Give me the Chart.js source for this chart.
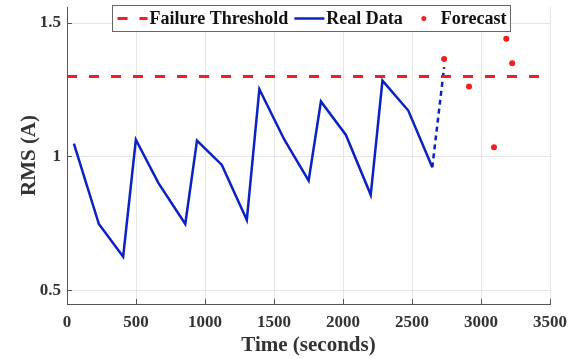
<!DOCTYPE html>
<html>
<head>
<meta charset="utf-8">
<script src="https://cdn.jsdelivr.net/npm/chart.js@4"></script>
<style>
  body { margin: 0; background: #fff; }
  #wrap { width: 582px; height: 359px; position: relative; }
</style>
</head>
<body>
<div id="wrap"><canvas id="rms-chart"></canvas></div>
<script>
// values
const realTime = [50, 231, 407, 499, 663, 857, 942, 1122, 1303, 1394, 1575, 1751, 1840, 2021, 2201, 2286, 2473, 2647];
const realRms = [1.049, 0.749, 0.627, 1.064, 0.902, 0.749, 1.061, 0.970, 0.764, 1.253, 1.064, 0.911, 1.207, 1.082, 0.858, 1.285, 1.173, 0.961];

// dashed jump from the last measured point to the first forecast
const linkTime = [2647, 2733];
const linkRms = [0.961, 1.335];

const forecastTime = [2733, 2913, 3094, 3183, 3226];
const forecastRms = [1.366, 1.263, 1.036, 1.441, 1.350];

const thresholdTime = [0, 3500];
const thresholdRms = [1.3, 1.3];

const xTicks = [0, 500, 1000, 1500, 2000, 2500, 3000, 3500];
const yTicks = [0.5, 1, 1.5];

const serif = '"Liberation Serif", "Times New Roman", serif';
const red = '#f0201e';
const blue = '#0a22c4';

function pts(xs, ys) {
    return xs.map((x, i) => ({ x: x, y: ys[i] }));
}

// boxed legend drawn on top of the plot, like matlab's
const legendBox = {
    id: 'legendBox',
    afterDraw(chart) {
        const ctx = chart.ctx;
        const area = chart.chartArea;
        const items = chart.data.datasets.filter(d => d.label);
        ctx.save();
        ctx.font = 'bold 18px ' + serif;
        const sample = 30;
        let w = 5;
        items.forEach((d, i) => {
            w += sample + 2 + ctx.measureText(d.label).width;
            if (i < items.length - 1) w += 6;
        });
        w += 4;
        const h = 26;
        const left = Math.round((area.left + area.right) / 2 - w / 2 + 2) + 0.5;
        const top = area.top - 1.5;
        ctx.fillStyle = '#fff';
        ctx.fillRect(left, top, w, h);
        ctx.strokeStyle = '#666';
        ctx.lineWidth = 1;
        ctx.strokeRect(left, top, w, h);

        const cy = top + h / 2;
        let x = left + 5;
        items.forEach(d => {
            ctx.save();
            if (d.showLine === false) {
                ctx.fillStyle = d.pointBackgroundColor;
                ctx.beginPath();
                ctx.arc(x + sample / 2, cy, 2.5, 0, Math.PI * 2);
                ctx.fill();
            } else {
                ctx.strokeStyle = d.borderColor;
                ctx.lineWidth = d.borderWidth;
                ctx.setLineDash(d.borderDash || []);
                ctx.beginPath();
                ctx.moveTo(x, cy);
                ctx.lineTo(x + sample, cy);
                ctx.stroke();
            }
            ctx.restore();
            x += sample + 2;
            ctx.fillStyle = '#111';
            ctx.textBaseline = 'middle';
            ctx.fillText(d.label, x, cy + 1);
            x += ctx.measureText(d.label).width + 6;
        });
        ctx.restore();
    }
};

new Chart(document.getElementById('rms-chart'), {
    type: 'line',
    data: {
        datasets: [{
            label: 'Failure Threshold',
            data: pts(thresholdTime, thresholdRms),
            borderColor: red,
            borderWidth: 3,
            borderDash: [10, 12],
            pointRadius: 0,
            fill: false
        }, {
            label: 'Real Data',
            data: pts(realTime, realRms),
            borderColor: blue,
            borderWidth: 2.5,
            pointRadius: 0,
            tension: 0,
            fill: false
        }, {
            data: pts(linkTime, linkRms),
            borderColor: blue,
            borderWidth: 2.5,
            borderDash: [5, 4],
            pointRadius: 0,
            fill: false
        }, {
            label: 'Forecast',
            data: pts(forecastTime, forecastRms),
            showLine: false,
            pointRadius: 3,
            pointBorderWidth: 0,
            pointBackgroundColor: red,
            pointBorderColor: red
        }]
    },
    options: {
        responsive: true,
        maintainAspectRatio: false,
        animation: false,
        layout: { padding: { top: 7, right: 32, left: 0, bottom: 0 } },
        plugins: {
            legend: { display: false },
            tooltip: { enabled: false }
        },
        scales: {
            x: {
                type: 'linear',
                min: 0,
                max: 3500,
                afterFit: s => { s.height = 55; s.paddingLeft = 0; s.paddingRight = 0; },
                afterBuildTicks: s => { s.ticks = xTicks.map(v => ({ value: v })); },
                grid: { color: '#e6e6e6', tickColor: '#555', tickLength: -5 },
                border: { color: '#555' },
                ticks: { color: '#333', padding: 13, maxRotation: 0, callback: v => String(v), font: { family: serif, size: 17, weight: 'bold' } },
                title: { display: true, text: 'Time (seconds)', color: '#333', padding: { top: 0, bottom: 1 }, font: { family: serif, size: 21, weight: 'bold' } }
            },
            y: {
                min: 0.45,
                max: 1.56,
                afterFit: s => { s.width = 67; s.paddingTop = 0; s.paddingBottom = 0; },
                afterBuildTicks: s => { s.ticks = yTicks.map(v => ({ value: v })); },
                grid: { color: '#e6e6e6', tickColor: '#555', tickLength: -5 },
                border: { color: '#555' },
                ticks: { color: '#333', padding: 11, callback: v => String(v), font: { family: serif, size: 17, weight: 'bold' } },
                title: { display: true, text: 'RMS (A)', color: '#333', padding: { top: 17, bottom: 0 }, font: { family: serif, size: 21, weight: 'bold' } }
            }
        }
    },
    plugins: [legendBox]
});
</script>
</body>
</html>
